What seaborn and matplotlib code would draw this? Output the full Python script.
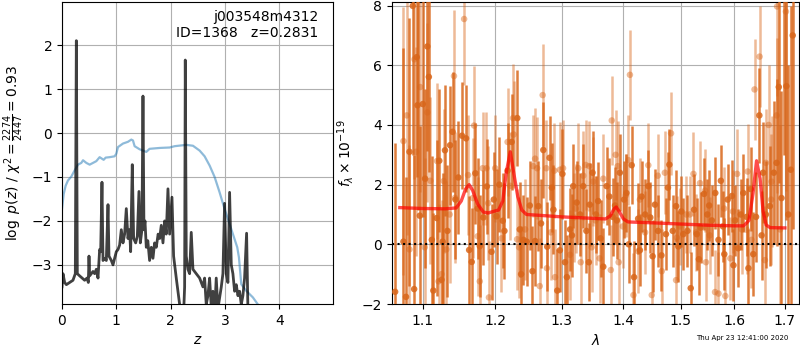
import numpy as np
import pandas as pd
import matplotlib
matplotlib.use('Agg')
import matplotlib.pyplot as plt
import matplotlib.ticker as mticker
import seaborn as sns

###--------------------------------------------------###
# p(z) panel
z_pz = [0.0, 0.018, 0.049, 0.08, 0.141, 0.202, 0.245, 0.264, 0.282, 0.325,
        0.417, 0.46, 0.485, 0.497, 0.509, 0.571, 0.601, 0.632, 0.663, 0.693,
        0.712, 0.736, 0.755, 0.785, 0.816, 0.847, 0.865, 0.908, 0.939, 0.969,
        1.0, 1.031, 1.061, 1.092, 1.123, 1.153, 1.184, 1.215, 1.245, 1.264,
        1.294, 1.319, 1.356, 1.387, 1.417, 1.442, 1.472, 1.491, 1.509, 1.528,
        1.552, 1.58, 1.613, 1.645, 1.675, 1.705, 1.736, 1.77, 1.798, 1.828,
        1.859, 1.89, 1.92, 1.951, 1.982, 2.025, 2.055, 2.104, 2.166, 2.227,
        2.258, 2.27, 2.288, 2.319, 2.35, 2.38, 2.411, 2.472, 2.534, 2.595,
        2.626, 2.656, 2.687, 2.718, 2.748, 2.779, 2.81, 2.84, 2.871, 2.933,
        2.963, 2.994, 3.025, 3.055, 3.086, 3.117, 3.147, 3.178, 3.209, 3.239,
        3.27, 3.301, 3.331, 3.362, 3.399, 3.423, 3.454]
logp = [-3.5, -3.2, -3.4, -3.45, -3.4, -3.35, -3.2, 2.1, -3.2, -3.25,
        -3.35, -3.3, -3.4, -2.8, -3.25, -3.15, -3.2, -3.1, -3.3, -2.65,
        -2.7, -1.12, -2.9, -2.85, -2.9, -1.63, -2.8, -2.9, -3.0, -2.85,
        -2.7, -2.65, -2.55, -2.2, -2.5, -2.3, -1.72, -2.4, -2.2, -2.7,
        -0.72, -2.4, -2.5, -2.35, -1.33, -2.5, -2.2, 0.84, -2.2, -2.0,
        -2.6, -2.45, -2.9, -2.6, -2.85, -2.5, -2.6, -2.3, -2.4, -2.1,
        -2.5, -2.0, -2.3, -1.27, -2.3, -1.46, -2.8, -3.3, -3.9, -4.5,
        -3.5, 1.66, -2.8, -3.1, -3.2, -2.26, -3.1, -3.2, -3.3, -3.5,
        -3.3, -3.9, -3.7, -3.3, -3.95, -3.6, -4.1, -3.3, -4.0, -3.5,
        -3.2, -1.6, -3.2, -3.4, -1.35, -3.0, -3.2, -3.6, -3.45, -3.7,
        -3.6, -3.9, -3.7, -3.3, -2.28, -4.0, -4.5]

z_prior = [0.0, 0.031, 0.067, 0.11, 0.172, 0.233, 0.294, 0.356, 0.387, 0.448,
           0.509, 0.571, 0.632, 0.693, 0.767, 0.804, 0.877, 0.969, 1.0, 1.031,
           1.123, 1.215, 1.276, 1.307, 1.337, 1.429, 1.552, 1.613, 1.798, 1.982,
           2.074, 2.288, 2.411, 2.534, 2.626, 2.718, 2.81, 2.902, 2.994, 3.086,
           3.147, 3.227, 3.258, 3.301, 3.393, 3.515, 3.607, 3.7]
prior = [-1.73, -1.39, -1.2, -1.08, -0.99, -0.85, -0.72, -0.68, -0.62, -0.68,
         -0.72, -0.68, -0.64, -0.55, -0.61, -0.56, -0.55, -0.53, -0.47, -0.32,
         -0.24, -0.2, -0.15, -0.17, -0.3, -0.37, -0.43, -0.36, -0.34, -0.33,
         -0.3, -0.27, -0.29, -0.4, -0.53, -0.74, -1.0, -1.35, -1.73, -2.07,
         -2.3, -2.6, -2.83, -3.44, -3.59, -3.74, -3.9, -4.0]

# spectrum panel: two sets of points with errors
lam_a = [1.064, 1.0747, 1.078, 1.0825, 1.0868, 1.0886, 1.092, 1.093, 1.096, 1.100,
         1.103, 1.106, 1.108, 1.112, 1.114, 1.1185, 1.122, 1.125, 1.1266, 1.1297,
         1.133, 1.1366, 1.140, 1.144, 1.148, 1.153, 1.1587, 1.163, 1.1666, 1.1717,
         1.175, 1.178, 1.183, 1.188, 1.1947, 1.198, 1.202, 1.206, 1.211, 1.2134,
         1.218, 1.224, 1.2323, 1.236, 1.238, 1.2415, 1.2464, 1.251, 1.259, 1.264,
         1.2715, 1.2775, 1.2845, 1.287, 1.293, 1.301, 1.305, 1.308, 1.313, 1.318,
         1.3235, 1.329, 1.334, 1.339, 1.3445, 1.349, 1.3545, 1.358, 1.3665, 1.372,
         1.3765, 1.382, 1.389, 1.394, 1.401, 1.405, 1.414, 1.418, 1.425, 1.431,
         1.437, 1.4425, 1.450, 1.454, 1.4595, 1.4655, 1.4735, 1.4795, 1.4855, 1.4915,
         1.4955, 1.5045, 1.512, 1.518, 1.524, 1.529, 1.536, 1.5425, 1.5485, 1.557,
         1.5635, 1.5695, 1.574, 1.5805, 1.587, 1.595, 1.601, 1.607, 1.617, 1.6235,
         1.6315, 1.6365, 1.642, 1.6485, 1.656, 1.6615, 1.6695, 1.6775, 1.683, 1.6875,
         1.693, 1.698, 1.703, 1.707, 1.712, 1.716,
         1.255, 1.268, 1.281, 1.297, 1.316, 1.343, 1.362, 1.386, 1.409, 1.428,
         1.446, 1.477, 1.501, 1.533, 1.552, 1.578, 1.598, 1.612, 1.627, 1.653]
flux_a = [-1.59, 0.09, -1.76, 3.1, 7.99, -1.5, 6.27, 4.66, 0.96, 4.7,
          2.2, 6.63, 5.61, 0.15, -1.55, 0.88, 2.8, -1.19, 0.09, 3.15,
          0.45, 3.32, 3.77, 1.5, 2.24, 3.64, 3.55, -0.19, -0.59, 2.38,
          1.2, -0.06, 0.9, 1.94, -0.25, 1.5, 0.94, 2.0, 0.79, 0.45,
          2.47, 3.43, 4.23, 0.5, -1.0, 0.15, 0.09, 1.3, 0.11, 1.28,
          3.16, -0.08, 1.9, 1.16, -1.55, 2.36, -0.6, -1.1, 0.5, 1.95,
          1.4, 1.0, 1.95, 0.45, 1.33, 2.4, 1.0, 1.45, -0.75, 1.95,
          1.6, 0.92, 0.8, 2.4, 1.5, 1.72, 2.65, -1.1, 0.86, 1.6,
          1.0, 1.95, -0.4, 1.33, 0.45, -0.37, 0.34, 2.67, 0.45, 1.28,
          -0.07, 0.34, 0.45, -1.47, 1.16, 0.34, 0.56, 1.69, 1.0, 0.8,
          1.72, 0.15, 2.13, -0.33, 1.5, 1.62, 0.8, -0.13, 1.72, 0.92,
          1.85, -0.33, 0.92, 4.32, 2.4, 1.0, 1.28, 2.4, 2.73, 5.27,
          1.55, 8.5, 5.3, 1.0, 2.5, 7.0,
          -0.9, 0.7, 2.9, -0.2, 0.3, -0.6, 0.2, 1.3, 0.0, -0.2,
          0.9, 1.9, 1.1, -0.5, 1.3, 0.6, -0.7, 1.0, -0.8, 0.3]
err_a = [5.0, 6.5, 4.0, 4.5, 5.0, 4.5, 4.0, 3.5, 3.0, 3.8,
         3.0, 3.5, 3.2, 2.8, 2.6, 2.6, 2.4, 2.4, 2.3, 2.2,
         2.2, 2.0, 2.0, 2.0, 1.9, 1.8, 1.8, 1.8, 1.8, 1.7,
         1.7, 1.7, 1.6, 1.6, 1.6, 1.6, 1.6, 1.6, 1.6, 1.6,
         1.6, 1.6, 1.6, 1.6, 1.6, 1.5, 1.5, 1.5, 1.5, 1.5,
         1.6, 1.5, 1.5, 1.5, 1.4, 1.5, 1.4, 1.4, 1.4, 1.4,
         1.4, 1.4, 1.4, 1.4, 1.4, 1.4, 1.3, 1.3, 1.3, 1.3,
         1.3, 1.3, 1.3, 1.3, 1.3, 1.3, 1.3, 1.2, 1.2, 1.2,
         1.2, 1.2, 1.2, 1.2, 1.2, 1.2, 1.2, 1.2, 1.2, 1.2,
         1.2, 1.2, 1.2, 1.2, 1.2, 1.2, 1.2, 1.2, 1.2, 1.2,
         1.2, 1.2, 1.2, 1.2, 1.2, 1.2, 1.2, 1.3, 1.3, 1.3,
         1.4, 1.4, 1.5, 1.6, 1.7, 1.8, 2.0, 2.4, 2.8, 3.2,
         3.6, 5.5, 4.5, 5.0, 5.5, 6.5,
         1.5, 1.5, 1.4, 1.4, 1.4, 1.3, 1.3, 1.3, 1.3, 1.2,
         1.2, 1.2, 1.2, 1.2, 1.2, 1.2, 1.2, 1.2, 1.3, 1.5]

lam_b = [1.0747, 1.079, 1.0825, 1.089, 1.0912, 1.0965, 1.1026, 1.106, 1.110, 1.119,
         1.121, 1.125, 1.128, 1.1315, 1.136, 1.142, 1.1435, 1.156, 1.1615, 1.168,
         1.170, 1.175, 1.178, 1.182, 1.1875, 1.190, 1.191, 1.200, 1.209, 1.218,
         1.222, 1.226, 1.227, 1.232, 1.235, 1.244, 1.256, 1.262, 1.266, 1.2705,
         1.276, 1.277, 1.2885, 1.2895, 1.302, 1.313, 1.319, 1.326, 1.330, 1.334,
         1.3435, 1.3475, 1.354, 1.3605, 1.3665, 1.379, 1.3805, 1.3905, 1.392, 1.399,
         1.4085, 1.411, 1.417, 1.425, 1.437, 1.4425, 1.4485, 1.4715, 1.4825, 1.4915,
         1.498, 1.510, 1.523, 1.535, 1.5445, 1.553, 1.5695, 1.5825, 1.592, 1.605,
         1.614, 1.6255, 1.639, 1.649, 1.6595, 1.6615, 1.672, 1.683, 1.684, 1.690,
         1.702,
         1.259, 1.283, 1.297, 1.322, 1.338, 1.350, 1.387, 1.404, 1.428, 1.459,
         1.466, 1.493, 1.516, 1.528, 1.546, 1.563, 1.580, 1.597, 1.6235, 1.633,
         1.667, 1.673]
flux_b = [3.46, 4.32, -0.17, 6.2, 3.1, 5.27, -0.1, 4.42, 2.13, 2.79,
          -1.24, -1.0, 2.12, -0.17, 1.0, 5.64, 1.56, 7.55, 2.32, 1.55,
          3.98, 0.27, -1.24, 2.55, 2.55, 1.38, -1.78, 2.55, 0.2, 3.43,
          1.96, 4.23, 3.68, 0.17, -0.1, 0.5, 2.62, 2.55, -1.4, 5.0,
          2.55, -0.8, 2.47, -1.1, 2.55, -0.35, 0.9, 2.55, -0.6, 2.3,
          2.62, -0.1, 0.8, -0.47, 2.2, -0.86, 4.15, 2.62, -0.6, 0.6,
          2.82, 5.68, -1.7, -0.23, 0.4, 2.65, -1.7, 2.4, 3.72, -1.2,
          0.6, 1.0, 2.36, 2.05, 1.8, 0.3, -1.65, -1.73, -0.47, 2.36,
          0.5, 2.44, 5.19, 6.29, -0.53, 2.73, 1.5, 4.32, 7.97, 0.5,
          7.8,
          2.87, 0.4, 2.5, 1.2, 2.66, 2.1, 3.0, 1.64, 1.5, 2.3,
          -0.9, 0.22, 1.0, 0.4, -0.6, -1.6, 1.2, 1.1, 0.49, 0.15,
          4.0, 2.1]
err_b = [4.5, 4.0, 3.5, 4.0, 3.5, 3.5, 3.0, 3.0, 2.8, 2.6,
         2.6, 2.5, 2.4, 2.3, 2.3, 2.2, 2.2, 2.2, 2.0, 2.0,
         2.0, 2.0, 1.9, 1.9, 1.9, 1.9, 1.9, 1.8, 1.8, 1.8,
         1.8, 1.8, 1.8, 1.7, 1.7, 1.7, 1.7, 1.7, 1.6, 1.7,
         1.6, 1.6, 1.6, 1.6, 1.6, 1.5, 1.5, 1.5, 1.5, 1.5,
         1.5, 1.5, 1.5, 1.5, 1.5, 1.5, 1.5, 1.5, 1.5, 1.4,
         1.5, 1.5, 1.4, 1.4, 1.4, 1.4, 1.4, 1.4, 1.4, 1.4,
         1.3, 1.3, 1.4, 1.4, 1.4, 1.3, 1.4, 1.4, 1.4, 1.5,
         1.5, 1.6, 1.7, 1.7, 1.8, 1.8, 2.2, 2.6, 3.0, 3.5,
         6.0,
         1.7, 1.6, 1.6, 1.5, 1.5, 1.5, 1.5, 1.4, 1.4, 1.4,
         1.4, 1.4, 1.3, 1.3, 1.3, 1.4, 1.4, 1.4, 1.5, 1.6,
         2.0, 2.2]

# best-fit model
lam_m = [1.07, 1.10, 1.13, 1.145, 1.152, 1.158, 1.163, 1.168, 1.175, 1.183,
         1.19, 1.197, 1.205, 1.211, 1.216, 1.222, 1.227, 1.233, 1.239, 1.246,
         1.26, 1.30, 1.34, 1.37, 1.378, 1.384, 1.388, 1.393, 1.40, 1.408,
         1.45, 1.50, 1.55, 1.60, 1.618, 1.628, 1.636, 1.643, 1.650, 1.656,
         1.662, 1.67, 1.70]
flux_m = [1.23, 1.20, 1.19, 1.22, 1.45, 1.85, 2.0, 1.8, 1.35, 1.08,
          1.05, 1.1, 1.15, 1.45, 2.4, 3.1, 2.4, 1.6, 1.15, 1.0,
          0.98, 0.92, 0.88, 0.85, 0.95, 1.18, 1.25, 1.1, 0.85, 0.75,
          0.72, 0.68, 0.64, 0.62, 0.62, 0.8, 1.7, 2.8, 2.2, 1.1,
          0.65, 0.56, 0.55]

lam_ticks = [1.1, 1.2, 1.3, 1.4, 1.5, 1.6, 1.7]
###--------------------------------------------------###

orange = '#d9661a'

fig = plt.figure(figsize=(8, 3.5), dpi=100)
ax1 = fig.add_axes([0.0775, 0.1314, 0.33875, 0.8629])
ax2 = fig.add_axes([0.49, 0.1314, 0.50875, 0.8629])

# --- p(z)
sns.lineplot(x=z_prior, y=prior, ax=ax1, color='#1f77b4', alpha=0.5, lw=1.6,
             sort=False, estimator=None)
sns.lineplot(x=z_pz, y=logp, ax=ax1, color='k', alpha=0.75, lw=2,
             sort=False, estimator=None)
ax1.set_xlim(0, 4.99)
ax1.set_ylim(-3.89, 2.98)
ax1.set_xticks([0, 1, 2, 3, 4])
ax1.set_yticks([-3, -2, -1, 0, 1, 2])
ax1.grid(True)
ax1.set_xlabel('$z$')
ax1.set_ylabel(r'$\log\ p(z)$ / $\chi^2=\frac{2274}{2447}=0.93$')
ax1.text(0.945, 0.975, 'j003548m4312\nID=1368   z=0.2831', ha='right', va='top',
         transform=ax1.transAxes, fontsize=10)

# --- spectrum
ax2.errorbar(lam_b, flux_b, yerr=err_b, fmt='none', ecolor=orange, alpha=0.45,
             elinewidth=1.8, zorder=2)
sns.scatterplot(x=lam_b, y=flux_b, ax=ax2, color=orange, alpha=0.45, s=22,
                edgecolor='none', zorder=2)
ax2.errorbar(lam_a, flux_a, yerr=err_a, fmt='none', ecolor=orange, alpha=0.85,
             elinewidth=1.8, zorder=3)
sns.scatterplot(x=lam_a, y=flux_a, ax=ax2, color=orange, alpha=0.85, s=22,
                edgecolor='none', zorder=3)
sns.lineplot(x=lam_m, y=flux_m, ax=ax2, color='red', alpha=0.7, lw=2.4,
             sort=False, estimator=None, zorder=5)
ax2.axhline(0, color='k', linestyle=':', lw=1.5, zorder=6)

ax2.set_xscale('log')
ax2.set_xlim(1.06, 1.729)
ax2.set_ylim(-2, 8.12)
ax2.xaxis.set_major_locator(mticker.FixedLocator(lam_ticks))
ax2.xaxis.set_major_formatter(mticker.FixedFormatter([str(v) for v in lam_ticks]))
ax2.xaxis.set_minor_locator(mticker.NullLocator())
ax2.set_yticks([-2, 0, 2, 4, 6, 8])
ax2.grid(True)
ax2.set_xlabel(r'$\lambda$')
ax2.set_ylabel(r'$f_\lambda\times10^{-19}$')

fig.text(0.985, 0.025, 'Thu Apr 23 12:41:00 2020', ha='right', va='bottom', fontsize=5)

fig.savefig('out.png', dpi=100)
